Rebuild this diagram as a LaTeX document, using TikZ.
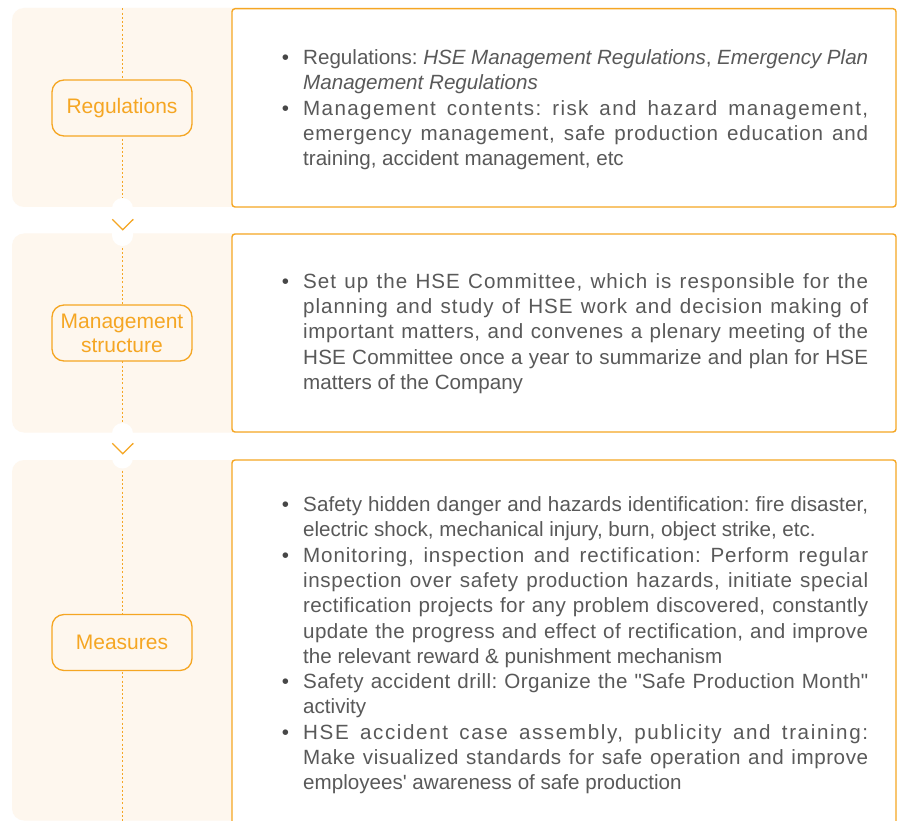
\documentclass[tikz,border=0pt]{standalone}
\usepackage{fontspec}
\setmainfont{Liberation Sans}
\frenchspacing
\definecolor{hseorange}{HTML}{F5A623}
\definecolor{hsecream}{HTML}{FEF7EE}
\definecolor{hsetext}{HTML}{595959}
\definecolor{hsebullet}{HTML}{474747}
\newlength\natw
\newlength\spw
\newcommand{\bul}{\llap{\textcolor{hsebullet}{\textbullet}\hskip 14pt}}
\newcommand{\jline}[1]{%
  \setbox0=\hbox{#1}\natw=\wd0
  \setbox2=\hbox{\addfontfeature{LetterSpace=10}#1}\spw=\wd2
  \pgfmathsetmacro\lsamt{max(0,7.5*(565pt-\natw)/max(1pt,\spw-\natw))}%
  \hbox to\hsize{\addfontfeature{LetterSpace=\lsamt}#1}}
\newcommand{\pline}[1]{\hbox to\hsize{#1}}
\newcommand{\eline}[1]{\hbox{#1}}
\newcommand{\blocktext}[1]{\vtop{\hsize=565pt\baselineskip=25.3pt\lineskiplimit=-100pt\lineskip=0pt #1}}
\tikzset{
  panel/.style={fill=hsecream, rounded corners=12pt},
  infobox/.style={draw=hseorange, line width=1.4pt, fill=white, rounded corners=3pt},
  tag/.style={draw=hseorange, line width=1.3pt, fill=hsecream, rounded corners=12pt,
    minimum width=140pt, minimum height=56pt, text=hseorange,
    font=\fontsize{21}{24}\selectfont, align=center, inner sep=0pt},
  flowline/.style={draw=hseorange, line width=1.1pt, dash pattern=on 2pt off 2.2pt},
  notch/.style={fill=white, rounded corners=10.5pt},
  chev/.style={draw=hseorange, line width=1.3pt},
  body/.style={anchor=base west, inner sep=0pt, text=hsetext, font=\fontsize{20.6}{25.3}\selectfont}
}
\begin{document}
\begin{tikzpicture}[x=1pt, y=-1pt]
\useasboundingbox (0,0) rectangle (897,821);
\fill[white] (0,0) rectangle (897,821);
% cream panels
\fill[panel] (12,8) rectangle (260,207);
\fill[panel] (12,233.5) rectangle (260,432.5);
\fill[panel] (12,460) rectangle (260,820.5);
% dotted flow line
\coordinate (ftop) at (122.5,8.5);
\coordinate (fbot) at (122.5,821);
\draw[flowline] (ftop) -- (fbot);
% notches with chevrons
\fill[notch] (112,198) rectangle (133,246);
\fill[notch] (112,423) rectangle (133,468.5);
\coordinate (c1a) at (112.3,219.3);
\coordinate (c1b) at (122.7,229.7);
\coordinate (c1c) at (133.3,219.3);
\coordinate (c2a) at (112.3,443.3);
\coordinate (c2b) at (122.7,453.7);
\coordinate (c2c) at (133.3,443.3);
\draw[chev] (c1a) -- (c1b) -- (c1c);
\draw[chev] (c2a) -- (c2b) -- (c2c);
% labels
\node[tag] (reg) at (122,108) {Regulations};
\node[tag] (mgt) at (122,333) {Management\\structure};
\node[tag] (mea) at (122,642.5) {Measures};
% info boxes
\draw[infobox] (232,8.7) rectangle (896,207);
\draw[infobox] (232,234) rectangle (896,432);
\draw[infobox] (232,460) rectangle (896,850);
% texts
\node[body] (t1) at (303,64.5) {\blocktext{%
\pline{\bul Regulations: \textit{HSE Management Regulations}, \textit{Emergency Plan}}
\eline{\textit{Management Regulations}}
\jline{\bul Management contents: risk and hazard management,}
\jline{emergency management, safe production education and}
\eline{training, accident management, etc}
}};
\node[body] (t2) at (303,288.3) {\blocktext{%
\jline{\bul Set up the HSE Committee, which is responsible for the}
\jline{planning and study of HSE work and decision making of}
\jline{important matters, and convenes a plenary meeting of the}
\jline{HSE Committee once a year to summarize and plan for HSE}
\eline{matters of the Company}
}};
\node[body] (t3) at (303,511.5) {\blocktext{%
\jline{\bul Safety hidden danger and hazards identification: fire disaster,}
\eline{electric shock, mechanical injury, burn, object strike, etc.}
\jline{\bul Monitoring, inspection and rectification: Perform regular}
\jline{inspection over safety production hazards, initiate special}
\jline{rectification projects for any problem discovered, constantly}
\jline{update the progress and effect of rectification, and improve}
\eline{the relevant reward \& punishment mechanism}
\jline{\bul Safety accident drill: Organize the \textquotedbl Safe Production Month\textquotedbl}
\eline{activity}
\jline{\bul HSE accident case assembly, publicity and training:}
\jline{Make visualized standards for safe operation and improve}
\eline{employees\textquotesingle\ awareness of safe production}
}};
\end{tikzpicture}
\end{document}
